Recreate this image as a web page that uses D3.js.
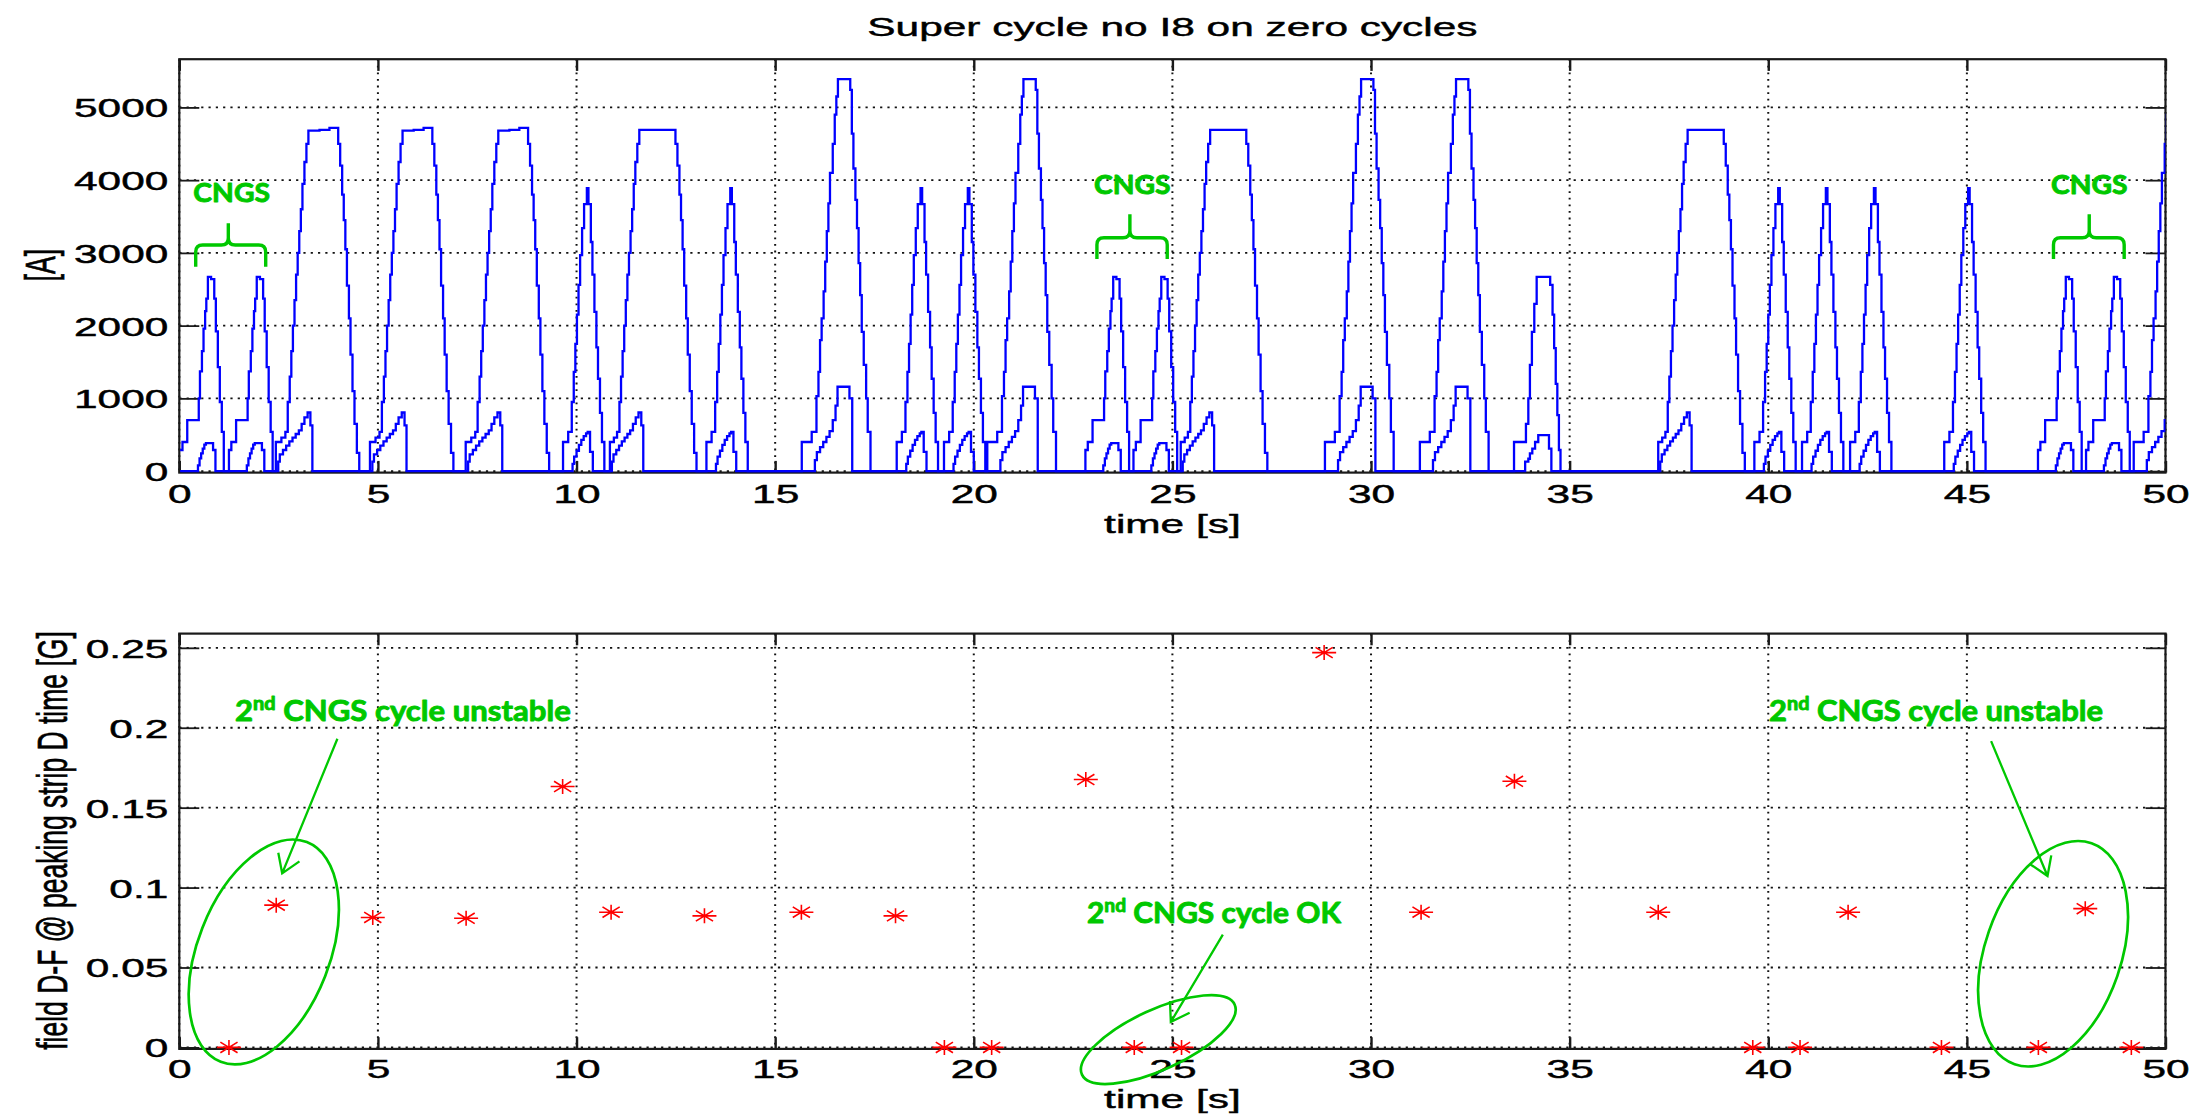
<!DOCTYPE html>
<html>
<head>
<meta charset="utf-8">
<script src="https://cdn.jsdelivr.net/npm/d3@7"></script>
<style>
  html, body { margin: 0; padding: 0; background: #fff; }
  svg { display: block; }
</style>
</head>
<body>
<svg id="fig" width="2202" height="1115"></svg>
<script>
// ---------------- data ----------------
const timeTicks = [0, 5, 10, 15, 20, 25, 30, 35, 40, 45, 50];
const currentTicks = [0, 1000, 2000, 3000, 4000, 5000];
const currentTickLabels = ["0", "1000", "2000", "3000", "4000", "5000"];
const fieldTicks = [0, 0.05, 0.1, 0.15, 0.2, 0.25];
const fieldTickLabels = ["0", "0.05", "0.1", "0.15", "0.2", "0.25"];

// Magnet current profiles per cycle type: [seconds from cycle start, current in A],
// each level held until the next point (staircase as logged).
const cngsMain = [[0.00,290],[0.06,400],[0.18,700],[0.47,1000],[0.50,1370],[0.55,1650],[0.59,1960],[0.63,2200],[0.66,2370],[0.70,2670],[0.78,2640],[0.86,2370],[0.90,1920],[0.95,1430],[1.00,950],[1.05,540],[1.10,0]];
const cngsAux  = [[0.00,0],[0.45,80],[0.49,175],[0.53,245],[0.57,310],[0.61,365],[0.65,385],[0.83,290],[0.89,0]];
const b1Main = [[0.00,400],[0.14,460],[0.24,540],[0.30,950],[0.35,1300],[0.39,1650],[0.43,2000],[0.47,2350],[0.51,2700],[0.55,3000],[0.59,3300],[0.63,3600],[0.67,3950],[0.72,4250],[0.77,4500],[0.82,4680],[1.10,4690],[1.35,4720],[1.57,4500],[1.62,4200],[1.67,3800],[1.71,3450],[1.75,3050],[1.79,2550],[1.84,2100],[1.88,1600],[1.93,1100],[1.98,650],[2.04,250],[2.10,0]];
const b1Aux  = [[0.00,0],[0.06,130],[0.10,230],[0.18,290],[0.26,350],[0.34,410],[0.42,460],[0.50,510],[0.58,560],[0.65,650],[0.72,740],[0.80,806],[0.87,630],[0.92,0]];
const b2Main = [[0.00,400],[0.10,460],[0.18,540],[0.24,950],[0.28,1300],[0.32,1650],[0.36,2000],[0.40,2350],[0.44,2700],[0.48,3000],[0.52,3300],[0.56,3600],[0.60,3950],[0.64,4250],[0.69,4500],[0.74,4690],[1.65,4500],[1.70,4200],[1.75,3800],[1.79,3450],[1.83,3050],[1.87,2550],[1.92,2100],[1.96,1600],[2.01,1100],[2.06,650],[2.12,250],[2.18,0]];
const b2Aux  = [[0.00,0],[0.05,130],[0.09,230],[0.16,290],[0.23,350],[0.30,410],[0.37,460],[0.44,510],[0.51,560],[0.58,650],[0.65,740],[0.72,806],[0.79,630],[0.84,0]];
const cMain = [[0.00,400],[0.13,540],[0.22,950],[0.27,1365],[0.31,1750],[0.35,2150],[0.39,2560],[0.43,2970],[0.48,3340],[0.53,3670],[0.60,3890],[0.64,3670],[0.70,3150],[0.74,2700],[0.79,2190],[0.84,1700],[0.88,1270],[0.93,800],[0.98,400],[1.04,0]];
const cAux  = [[0.00,0],[0.24,100],[0.28,200],[0.34,280],[0.40,360],[0.46,430],[0.52,480],[0.58,520],[0.62,540],[0.68,265],[0.75,0]];
const dMain = [[0.00,400],[0.25,540],[0.37,1030],[0.42,1365],[0.46,1800],[0.50,2100],[0.55,2470],[0.59,2880],[0.63,3300],[0.67,3680],[0.71,4100],[0.78,4500],[0.83,4900],[0.87,5150],[0.91,5390],[1.22,5240],[1.26,4640],[1.30,4160],[1.35,3730],[1.39,3340],[1.43,2860],[1.47,2420],[1.51,1915],[1.56,1460],[1.62,1000],[1.66,540],[1.73,0]];
const dAux  = [[0.00,0],[0.33,150],[0.38,260],[0.46,330],[0.54,400],[0.62,470],[0.70,550],[0.78,700],[0.85,900],[0.90,1160],[1.20,1000],[1.27,0]];
const eMain = [[0.00,400],[0.30,650],[0.36,1000],[0.40,1460],[0.45,1915],[0.51,2300],[0.57,2670],[0.91,2560],[0.97,2150],[1.01,1690],[1.05,1200],[1.09,770],[1.13,290],[1.17,0]];
const eAux  = [[0.00,0],[0.28,130],[0.36,170],[0.40,245],[0.46,310],[0.53,400],[0.61,495],[0.88,310],[0.94,0]];

// Super cycle sequence: cycle type and its start time (s)
const cycleTypes  = ["CNGS","CNGS","B1","B1","B1","C","B2","C","D","C","C","D","CNGS","CNGS","B2","D","D","E","B2","C","C","C","C","CNGS","CNGS","D"];
const cycleStarts = [0.02, 1.25, 2.43, 4.80, 7.21, 9.66, 10.84, 13.27, 15.67, 18.06, 19.25, 20.34, 22.81, 24.02, 25.21, 28.84, 31.23, 33.60, 37.23, 39.65, 40.85, 42.06, 44.43, 46.79, 48.00, 49.20];

// Field difference D-F at the peaking strip D time, one value per cycle
const fieldTimes  = [1.25, 2.44, 4.87, 7.22, 9.65, 10.87, 13.22, 15.66, 18.03, 19.26, 20.45, 22.82, 24.04, 25.23, 28.82, 31.26, 33.61, 37.23, 39.61, 40.80, 42.01, 44.36, 46.80, 47.98, 49.14];
const fieldValues = [0, 0.089, 0.0813, 0.0808, 0.1632, 0.0846, 0.0823, 0.0846, 0.0823, 0, 0, 0.1676, 0, 0, 0.247, 0.0846, 0.1665, 0.0846, 0, 0, 0.0846, 0, 0, 0.0868, 0];

// ---------------- layout ----------------
const SX = 1.6;                       // horizontal stretch of the figure lettering
const FONT = '"Liberation Sans", Arial, Helvetica, sans-serif';
const FS = 26.5;
const GFONT = 'Lato, "Open Sans", sans-serif';
const GREEN = "#00c800";
const AXC = "#1a1a1a";

const plotL = 179.3, plotR = 2165.5;
const x = d3.scaleLinear().domain([0, 50]).range([plotL, plotR]);
const yI = d3.scaleLinear().domain([0, 5663]).range([471.1, 59.2]);
const yB = d3.scaleLinear().domain([0, 0.2589]).range([1047.4, 633.6]);

const svg = d3.select("#fig");
svg.append("rect").attr("width", 2202).attr("height", 1115).attr("fill", "#fff");

// black lettering, slightly thickened
function inkText(sel) {
  return sel.attr("font-family", FONT).attr("font-size", FS).attr("fill", "#000")
    .attr("stroke", "#000").attr("stroke-width", 0.45).attr("paint-order", "stroke");
}
function stretchedText(parent, str, tx, ty, anchor, rotate) {
  return parent.append("text")
    .attr("transform", `translate(${tx},${ty}) scale(${SX},1)` + (rotate ? ` rotate(${rotate})` : ""))
    .attr("text-anchor", anchor)
    .call(inkText)
    .text(str);
}

function drawPanel(y, yTicks, yLabels, xLabelBase) {
  const top = y.range()[1];
  const bottom = y.range()[0] + 1.5;
  const g = svg.append("g");

  // dotted grid
  g.append("g").selectAll("line").data(yTicks).join("line")
    .attr("x1", plotL).attr("x2", plotR)
    .attr("y1", d => y(d)).attr("y2", d => y(d))
    .attr("stroke", "#111").attr("stroke-width", 1.8).attr("stroke-dasharray", "2.2 5.1");
  g.append("g").selectAll("line").data(timeTicks).join("line")
    .attr("x1", d => x(d)).attr("x2", d => x(d))
    .attr("y1", top).attr("y2", bottom)
    .attr("stroke", "#111").attr("stroke-width", 2).attr("stroke-dasharray", "1.8 4.8");

  // box
  g.append("rect").attr("x", plotL).attr("y", top)
    .attr("width", plotR - plotL).attr("height", bottom - top)
    .attr("fill", "none").attr("stroke", AXC).attr("stroke-width", 2.2);

  const styleAxis = sel => {
    sel.select(".domain").remove();
    sel.selectAll(".tick line").attr("stroke", AXC);
    sel.attr("font-family", FONT).attr("font-size", FS);
  };

  const axB = g.append("g").attr("transform", `translate(0,${bottom})`)
    .call(d3.axisBottom(x).tickValues(timeTicks).tickSizeInner(-11.7).tickSizeOuter(0).tickPadding(0).tickFormat(d3.format("d")))
    .call(styleAxis);
  axB.selectAll(".tick line").attr("stroke-width", 2.4);
  axB.selectAll(".tick text").attr("y", xLabelBase - bottom).attr("dy", null)
    .call(inkText).attr("transform", `scale(${SX},1)`);

  const axT = g.append("g").attr("transform", `translate(0,${top})`)
    .call(d3.axisTop(x).tickValues(timeTicks).tickSizeInner(-11.7).tickSizeOuter(0).tickFormat(() => ""))
    .call(styleAxis);
  axT.selectAll(".tick line").attr("stroke-width", 2.4);

  const axL = g.append("g").attr("transform", `translate(${plotL},0)`)
    .call(d3.axisLeft(y).tickValues(yTicks).tickSizeInner(-20).tickSizeOuter(0).tickPadding(11)
      .tickFormat(d => yLabels[yTicks.indexOf(d)]))
    .call(styleAxis);
  axL.selectAll(".tick line").attr("stroke-width", 1.8);
  axL.selectAll(".tick text").attr("x", -11 / SX).attr("dy", null).attr("y", 9.5)
    .call(inkText).attr("transform", `scale(${SX},1)`);

  const axR = g.append("g").attr("transform", `translate(${plotR},0)`)
    .call(d3.axisRight(y).tickValues(yTicks).tickSizeInner(-20).tickSizeOuter(0).tickFormat(() => ""))
    .call(styleAxis);
  axR.selectAll(".tick line").attr("stroke-width", 1.8);
  return g;
}

// ---------------- upper panel: magnet currents ----------------
drawPanel(yI, currentTicks, currentTickLabels, 503);

const profiles = {
  CNGS: { main: cngsMain, aux: cngsAux },
  B1:   { main: b1Main,   aux: b1Aux },
  B2:   { main: b2Main,   aux: b2Aux },
  C:    { main: cMain,    aux: cAux },
  D:    { main: dMain,    aux: dAux },
  E:    { main: eMain,    aux: eAux }
};
function buildSeries(key) {
  const pts = [];
  cycleTypes.forEach((type, i) => {
    profiles[type][key].forEach(([dt, v]) => pts.push([cycleStarts[i] + dt, v]));
  });
  return pts;
}

svg.append("clipPath").attr("id", "clipTop").append("rect")
  .attr("x", plotL).attr("y", yI.range()[1]).attr("width", plotR - plotL).attr("height", yI.range()[0] - yI.range()[1] + 3);

const stairs = d3.line().x(d => x(d[0])).y(d => yI(d[1])).curve(d3.curveStepAfter);
const dataTop = svg.append("g").attr("clip-path", "url(#clipTop)");
["aux", "main"].forEach(key => {
  dataTop.append("path").datum(buildSeries(key))
    .attr("d", stairs).attr("fill", "none")
    .attr("stroke", "#0000ff").attr("stroke-width", 2.3);
});

// CNGS markers: braces with labels
const braceSpecs = [
  { t0: 0.413, t1: 2.175, tc: 1.234, vBar: 3108, vEnd: 2810, vTip: 3407, tLabel: 1.319, vLabel: 3704 },
  { t0: 23.10, t1: 24.87, tc: 23.93, vBar: 3209, vEnd: 2916, vTip: 3530, tLabel: 23.99, vLabel: 3805 },
  { t0: 47.18, t1: 48.96, tc: 48.08, vBar: 3209, vEnd: 2916, vTip: 3530, tLabel: 48.08, vLabel: 3805 }
];
function bracePath(xl, xr, xc, yBar, yEnd, yTip) {
  const r = 7;
  return `M${xl},${yEnd} L${xl},${yBar + r} Q${xl},${yBar} ${xl + r},${yBar} L${xc - r},${yBar} ` +
         `Q${xc},${yBar} ${xc},${yBar - r} L${xc},${yTip} M${xc},${yBar - r} Q${xc},${yBar} ${xc + r},${yBar} ` +
         `L${xr - r},${yBar} Q${xr},${yBar} ${xr},${yBar + r} L${xr},${yEnd}`;
}
function greenText(sel, size) {
  return sel.attr("font-family", GFONT).attr("font-weight", 700).attr("font-size", size)
    .attr("fill", GREEN).attr("stroke", GREEN).attr("stroke-width", 0.9)
    .attr("stroke-linejoin", "round").attr("paint-order", "stroke");
}
const annTop = svg.append("g");
braceSpecs.forEach(b => {
  annTop.append("path")
    .attr("d", bracePath(x(b.t0), x(b.t1), x(b.tc), yI(b.vBar), yI(b.vEnd), yI(b.vTip)))
    .attr("fill", "none").attr("stroke", GREEN).attr("stroke-width", 3.4)
    .attr("stroke-linecap", "butt").attr("stroke-linejoin", "round");
  const lg = annTop.append("g");
  const lt = lg.append("text").call(greenText, 26).attr("text-anchor", "middle").text("CNGS");
  const w = lt.node().getComputedTextLength() || 70;
  lg.attr("transform", `translate(${x(b.tLabel)},${yI(b.vLabel)}) scale(${76.7 / w},1)`);
});

// titles and labels
stretchedText(svg, "Super cycle no I8 on zero cycles", (plotL + plotR) / 2, 35.5, "middle");
stretchedText(svg, "time [s]", (plotL + plotR) / 2, 533.3, "middle");
stretchedText(svg, "[A]", 54.8, 265.2, "middle", -90);

// ---------------- lower panel: field difference ----------------
drawPanel(yB, fieldTicks, fieldTickLabels, 1078);

const starPath = "M-12,0H12M0,-7.5V7.5M-8.6,-5.3L8.6,5.3M-8.6,5.3L8.6,-5.3";
svg.append("g").selectAll("path").data(fieldTimes.map((t, i) => [t, fieldValues[i]])).join("path")
  .attr("transform", d => `translate(${x(d[0])},${yB(d[1])})`)
  .attr("d", starPath).attr("fill", "none")
  .attr("stroke", "#ff0000").attr("stroke-width", 1.6);

stretchedText(svg, "time [s]", (plotL + plotR) / 2, 1108.4, "middle");
stretchedText(svg, "field D-F @ peaking strip D time [G]", 66.6, 840.5, "middle", -90);

// annotations
const ann = svg.append("g");
const ellipseSpecs = [
  { t: 2.127, v: 0.0597, rx: 66, ry: 118, rot: 21.4 },
  { t: 24.645, v: 0.0049, rx: 84, ry: 30, rot: -24.7 },
  { t: 47.17, v: 0.0586, rx: 68, ry: 117, rot: 19.2 }
];
ellipseSpecs.forEach(e => {
  ann.append("ellipse")
    .attr("transform", `translate(${x(e.t)},${yB(e.v)}) rotate(${e.rot})`)
    .attr("rx", e.rx).attr("ry", e.ry)
    .attr("fill", "none").attr("stroke", GREEN).attr("stroke-width", 2.7);
});

const arrowSpecs = [
  { t0: 3.98, v0: 0.1931, t1: 2.59, v1: 0.1089 },
  { t0: 26.27, v0: 0.0706, t1: 24.96, v1: 0.0159 },
  { t0: 45.61, v0: 0.1916, t1: 47.03, v1: 0.1072 }
];
arrowSpecs.forEach(a => {
  const xs = x(a.t0), ys = yB(a.v0), xe = x(a.t1), ye = yB(a.v1);
  const ang = Math.atan2(ys - ye, xs - xe);
  const hl = 21, ha = 33 * Math.PI / 180;
  const h1 = [xe + hl * Math.cos(ang - ha), ye + hl * Math.sin(ang - ha)];
  const h2 = [xe + hl * Math.cos(ang + ha), ye + hl * Math.sin(ang + ha)];
  ann.append("path")
    .attr("d", `M${xs},${ys} L${xe},${ye} M${h1[0]},${h1[1]} L${xe},${ye} L${h2[0]},${h2[1]}`)
    .attr("fill", "none").attr("stroke", GREEN).attr("stroke-width", 2.3)
    .attr("stroke-linejoin", "miter");
});

const noteSpecs = [
  { rest: " CNGS cycle unstable", t: 1.403, v: 0.2042, width: 336 },
  { rest: " CNGS cycle OK",       t: 22.85, v: 0.0780, width: 254 },
  { rest: " CNGS cycle unstable", t: 40.02, v: 0.2042, width: 334 }
];
noteSpecs.forEach(n => {
  const ng = ann.append("g");
  const tx = ng.append("text").call(greenText, 28);
  tx.append("tspan").text("2");
  tx.append("tspan").attr("font-size", 18).attr("dy", -11).text("nd");
  tx.append("tspan").attr("dy", 11).text(n.rest);
  const w = tx.node().getComputedTextLength() || n.width;
  ng.attr("transform", `translate(${x(n.t)},${yB(n.v)}) scale(${n.width / w},1)`);
});
</script>
</body>
</html>
